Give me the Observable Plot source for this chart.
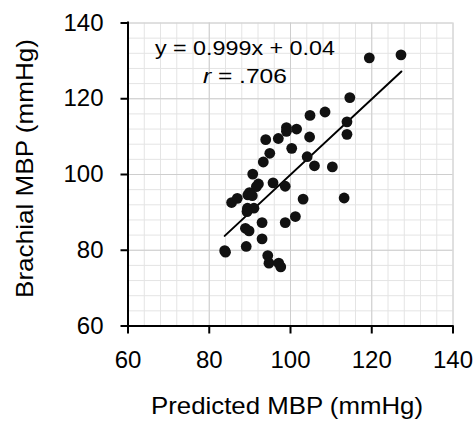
<!DOCTYPE html>
<html><head><meta charset="utf-8">
<script src="https://cdn.jsdelivr.net/npm/d3@7"></script>
<script src="https://cdn.jsdelivr.net/npm/@observablehq/plot@0.6"></script>
<style>
html,body{margin:0;padding:0;background:#fff;}
#chart svg{display:block;}
</style></head><body><div id="chart"></div>
<script>
// Data
const predicted = [119.4,127.2,114.6,113.9,113.9,113.2,108.5,104.8,104.7,104.1,105.9,110.3,
  103.1,101.2,98.7,98.7,99.0,99.0,101.5,100.3,97.0,93.9,94.9,93.3,95.7,90.7,92.1,91.6,
  89.9,89.5,90.6,85.5,86.9,89.4,91.0,89.3,93.0,88.9,89.8,93.0,89.1,84.0,83.8,94.4,94.7,97.1,97.6];
const brachial = [130.8,131.6,120.3,113.9,110.6,93.8,116.5,115.6,109.9,104.7,102.3,102.0,
  93.5,88.9,87.3,96.9,112.4,111.4,112.0,106.9,109.5,109.2,105.6,103.3,97.8,100.1,97.5,96.8,
  95.2,94.6,94.4,92.6,93.7,91.1,91.1,90.2,87.3,85.8,85.1,83.0,81.0,79.5,79.9,78.6,76.6,76.6,75.6];
const fitX = [83.8, 127.3];
const fitY = [83.8, 127.2];
const majorTicks = [60, 80, 100, 120, 140];
const minorTicks = [60,64,68,72,76,80,84,88,92,96,100,104,108,112,116,120,124,128,132,136,140];
const equationText = "y = 0.999x + 0.04";
const rSymbol = "r";
const rValueText = " = .706";
const annotationX = [88.9];
const annotationY = [131.4, 123.9];
const xTitle = "Predicted MBP (mmHg)";
const yTitle = "Brachial MBP (mmHg)";

const points = predicted.map((x, i) => ({x, y: brachial[i]}));
const fit = fitX.map((x, i) => ({x, y: fitY[i]}));
const FONT = "'Liberation Sans', Arial, Helvetica, sans-serif";

const plot = Plot.plot({
  width: 475, height: 423,
  marginLeft: 127.5, marginRight: 22.5, marginTop: 22.5, marginBottom: 97.5,
  style: {fontFamily: FONT, fontSize: "24px", color: "#000", background: "#fff"},
  x: {domain: [60, 140]},
  y: {domain: [60, 140]},
  marks: [
    Plot.ruleX(minorTicks, {stroke: "#e4e4e4", strokeWidth: 1}),
    Plot.ruleY(minorTicks, {stroke: "#e4e4e4", strokeWidth: 1}),
    Plot.ruleX(majorTicks, {stroke: "#cecece", strokeWidth: 1}),
    Plot.ruleY(majorTicks, {stroke: "#cecece", strokeWidth: 1}),
    Plot.axisX({ticks: majorTicks, tickSize: 8, tickPadding: 17, label: null, fontSize: 24, strokeWidth: 2, tickFormat: d => String(d)}),
    Plot.axisY({ticks: majorTicks, tickSize: 7, tickPadding: 17.5, label: null, fontSize: 24, strokeWidth: 2, tickFormat: d => String(d)}),
    Plot.ruleX([60], {stroke: "#000", strokeWidth: 2, strokeLinecap: "square"}),
    Plot.ruleY([60], {stroke: "#000", strokeWidth: 2, strokeLinecap: "square"}),
    Plot.line(fit, {x: "x", y: "y", stroke: "#000", strokeWidth: 2}),
    Plot.dot(points, {x: "x", y: "y", r: 5.4, fill: "#111", stroke: "none"})
  ]
});

document.getElementById("chart").appendChild(plot);

const svg = d3.select(plot);
const sx = plot.scale("x"), sy = plot.scale("y");

function addText(x, y, size, len) {
  return svg.append("text")
    .attr("x", x).attr("y", y)
    .attr("text-anchor", "middle")
    .attr("font-family", FONT).attr("font-size", size).attr("fill", "#000")
    .attr("textLength", len).attr("lengthAdjust", "spacingAndGlyphs");
}

// regression annotation
addText(sx.apply(annotationX[0]), sy.apply(annotationY[0]), 21, 180).text(equationText);
const rText = addText(sx.apply(annotationX[0]), sy.apply(annotationY[1]), 21, 84);
rText.append("tspan").attr("font-style", "italic").text(rSymbol);
rText.append("tspan").text(rValueText);

// axis titles
addText(287, 414, 24, 272).text(xTitle);
addText(0, 0, 24, 259)
  .attr("transform", "translate(33,168.5) rotate(-90)")
  .text(yTitle);
</script>
</body></html>
